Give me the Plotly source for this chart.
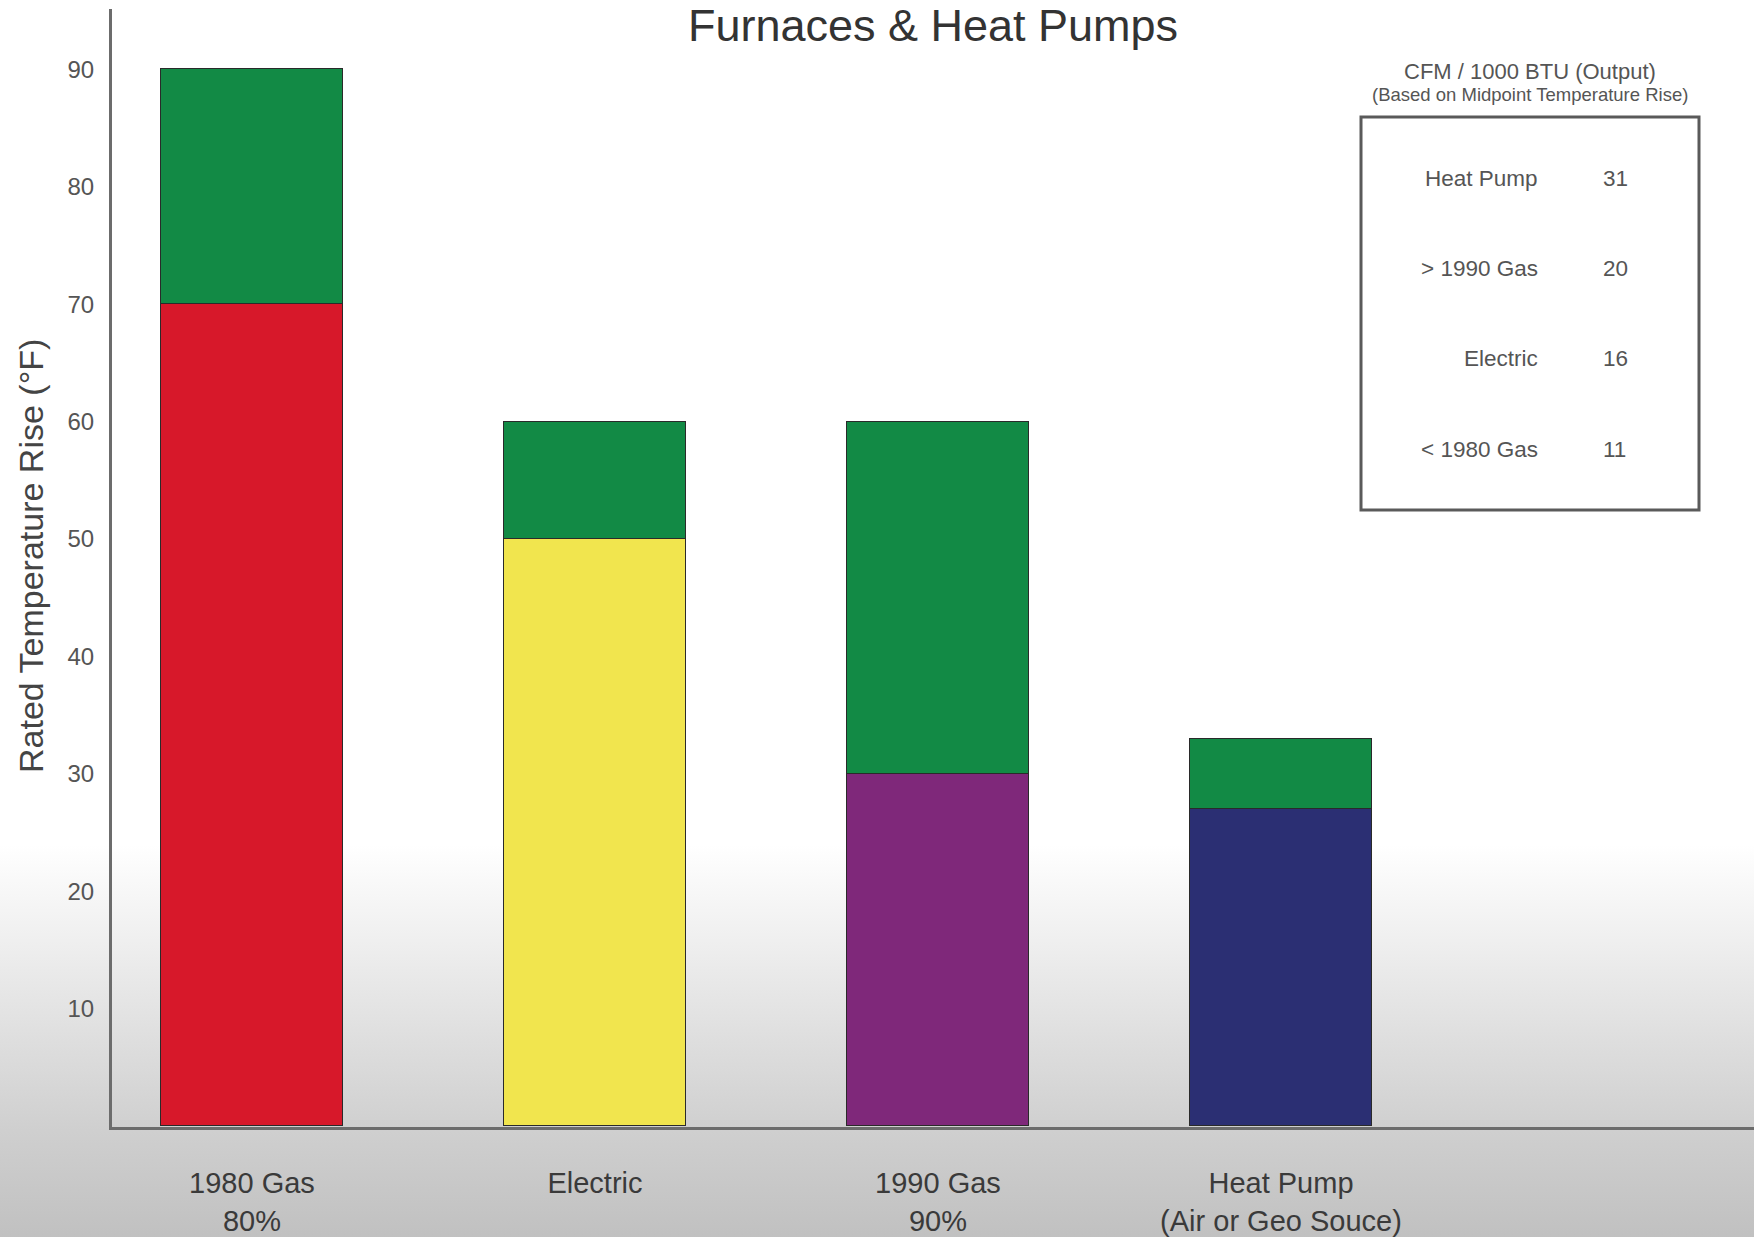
import base64
import plotly.graph_objects as go

# Furnace / heat pump rated temperature rise ranges (°F)
categories = ["1980 Gas<br>80%", "Electric", "1990 Gas<br>90%", "Heat Pump<br>(Air or Geo Souce)"]
rise_low = [70, 50, 30, 27]
rise_high = [90, 60, 60, 33]
base_colors = ["#D7182A", "#F1E54E", "#7F287A", "#2B2F73"]
range_color = "#128A45"

# CFM per 1000 BTU table
table_title = "CFM / 1000 BTU (Output)"
table_subtitle = "(Based on Midpoint Temperature Rise)"
table_labels = ["Heat Pump", "> 1990 Gas", "Electric", "< 1980 Gas"]
table_values = [31, 20, 16, 11]

y_ticks = [10, 20, 30, 40, 50, 60, 70, 80, 90]

W, H = 1754, 1237
M_L, M_R, M_T, M_B = 112, 0, 9, 110
PW, PH = W - M_L - M_R, H - M_T - M_B
FONT = "Liberation Sans, Arial, sans-serif"


def px(x):
    return (x - M_L) / PW


def py(y):
    return 1 - (y - M_T) / PH


# soft grey fade toward the bottom of the page
svg = (
    '<svg xmlns="http://www.w3.org/2000/svg" width="100" height="1300" preserveAspectRatio="none">'
    '<defs><linearGradient id="g" x1="0" y1="0" x2="0" y2="1">'
    '<stop offset="0" stop-color="#ffffff"/>'
    '<stop offset="0.65" stop-color="#ffffff"/>'
    '<stop offset="0.87" stop-color="#cfcfcf"/>'
    '<stop offset="1" stop-color="#b8b8b8"/>'
    '</linearGradient></defs>'
    '<rect x="0" y="0" width="100" height="1300" fill="url(#g)"/></svg>'
)
bg_src = "data:image/svg+xml;base64," + base64.b64encode(svg.encode()).decode()

fig = go.Figure()
fig.add_trace(go.Bar(
    x=categories, y=rise_low,
    marker=dict(color=base_colors, line=dict(color="#2a2a2a", width=1.5)),
    width=0.528, hoverinfo="skip", showlegend=False,
))
fig.add_trace(go.Bar(
    x=categories, y=[h - l for h, l in zip(rise_high, rise_low)],
    marker=dict(color=range_color, line=dict(color="#2a2a2a", width=1.5)),
    width=0.528, hoverinfo="skip", showlegend=False,
))

annotations = [
    dict(text="Rated Temperature Rise (°F)", textangle=-90, x=px(31), y=py(556),
         xref="paper", yref="paper", showarrow=False, xanchor="center", yanchor="middle",
         font=dict(family=FONT, size=34, color="#444444")),
    dict(text=table_title, x=px(1530), y=py(71), xref="paper", yref="paper",
         showarrow=False, xanchor="center", yanchor="middle",
         font=dict(family=FONT, size=22, color="#555555")),
    dict(text=table_subtitle, x=px(1530), y=py(95), xref="paper", yref="paper",
         showarrow=False, xanchor="center", yanchor="middle",
         font=dict(family=FONT, size=18.5, color="#555555")),
]
row_y = [178, 268, 359, 449]
for lab, val, yy in zip(table_labels, table_values, row_y):
    annotations.append(dict(text=lab, x=px(1540), y=py(yy), xref="paper", yref="paper",
                            showarrow=False, xanchor="right", yanchor="middle",
                            font=dict(family=FONT, size=22.5, color="#555555")))
    annotations.append(dict(text=str(val), x=px(1601), y=py(yy), xref="paper", yref="paper",
                            showarrow=False, xanchor="left", yanchor="middle",
                            font=dict(family=FONT, size=22.5, color="#555555")))

fig.update_layout(
    width=W, height=H,
    margin=dict(l=M_L, r=M_R, t=M_T, b=M_B, pad=0, autoexpand=False),
    paper_bgcolor="#ffffff", plot_bgcolor="rgba(0,0,0,0)",
    barmode="stack", bargap=0,
    title=dict(text="Furnaces & Heat Pumps", x=933 / W, y=1 - 25 / H,
               xref="container", yref="container", xanchor="center", yanchor="middle",
               font=dict(family=FONT, size=45, color="#333333")),
    xaxis=dict(range=[-0.408, 4.379], showgrid=False, zeroline=False, automargin=False,
               showline=True, linecolor="#6c6c6c", linewidth=3,
               ticks="", ticklabelstandoff=28,
               tickfont=dict(family=FONT, size=29, color="#3a3a3a")),
    yaxis=dict(range=[-0.085, 95.14], showgrid=False, zeroline=False, automargin=False,
               showline=True, linecolor="#6c6c6c", linewidth=3,
               ticks="", tickvals=y_ticks, ticklabelstandoff=10,
               tickfont=dict(family=FONT, size=24, color="#555555")),
    images=[dict(source=bg_src, xref="paper", yref="paper", x=px(0), y=py(0),
                 sizex=W / PW, sizey=1300 / PH, sizing="stretch", layer="below",
                 xanchor="left", yanchor="top")],
    shapes=[dict(type="rect", xref="paper", yref="paper",
                 x0=px(1361), x1=px(1699), y0=py(117), y1=py(510),
                 line=dict(color="#5a5a5a", width=3), fillcolor="rgba(0,0,0,0)")],
    annotations=annotations,
)

fig.write_html("out.html")
